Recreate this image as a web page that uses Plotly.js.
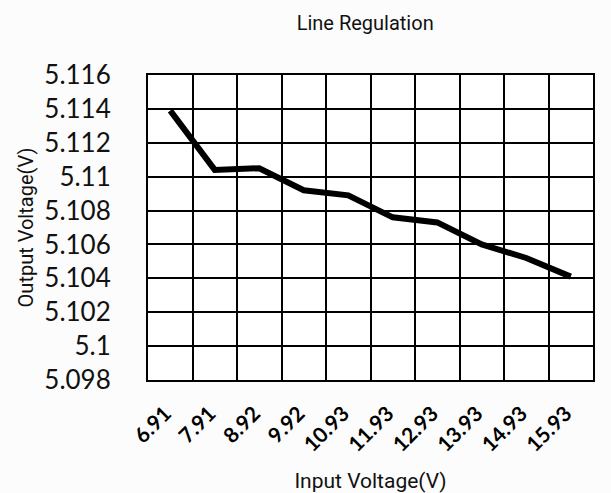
<!DOCTYPE html>
<html>
<head>
<meta charset="utf-8">
<script src="https://cdn.plot.ly/plotly-3.0.1.min.js"></script>
<style>html,body{margin:0;padding:0;background:#fcfcfc;}#chart{width:611px;height:493px;}</style>
</head>
<body>
<div id="chart"></div>
<script>
// Data
var inputVoltage = ["6.91", "7.91", "8.92", "9.92", "10.93", "11.93", "12.93", "13.93", "14.93", "15.93"];
var outputVoltage = [5.1139, 5.1104, 5.1105, 5.1092, 5.1089, 5.1076, 5.1073, 5.1060, 5.1052, 5.1041];
var yTickVals = [5.098, 5.1, 5.102, 5.104, 5.106, 5.108, 5.11, 5.112, 5.114, 5.116];
var yTickText = ["5.098", "5.1", "5.102", "5.104", "5.106", "5.108", "5.11", "5.112", "5.114", "5.116"];

var narrow = "Roboto, 'Liberation Sans Narrow', sans-serif";
var labelFont = "Lato, 'Open Sans', sans-serif";

var trace = {
  x: inputVoltage,
  y: outputVoltage,
  type: 'scatter',
  mode: 'lines',
  line: {color: '#000000', width: 6},
  hoverinfo: 'x+y'
};

var layout = {
  width: 611,
  height: 493,
  paper_bgcolor: '#fcfcfc',
  plot_bgcolor: '#ffffff',
  margin: {l: 148, r: 18, t: 75, b: 113},
  showlegend: false,
  title: {
    text: 'Line Regulation',
    font: {family: narrow, size: 20, color: '#111111'},
    x: 0.488, xref: 'paper', xanchor: 'center',
    y: 0.953, yref: 'container', yanchor: 'middle'
  },
  xaxis: {
    type: 'category',
    range: [-0.5, inputVoltage.length - 0.5],
    tickson: 'boundaries',
    showgrid: true,
    gridcolor: '#000000',
    gridwidth: 2,
    showline: true,
    linecolor: '#000000',
    linewidth: 2,
    mirror: true,
    ticks: '',
    tickangle: -45,
    ticklabelstandoff: 11,
    ticklabelshift: -5,
    tickfont: {family: labelFont, size: 21, color: '#000000', weight: 'bold'},
    title: {text: 'Input Voltage(V)', font: {family: narrow, size: 21, color: '#111111'}, standoff: 18},
    automargin: false,
    zeroline: false
  },
  yaxis: {
    range: [5.098, 5.116],
    tickmode: 'array',
    tickvals: yTickVals,
    ticktext: yTickText,
    showgrid: true,
    gridcolor: '#000000',
    gridwidth: 2,
    showline: true,
    linecolor: '#000000',
    linewidth: 2,
    mirror: true,
    ticks: '',
    ticklabelstandoff: 30,
    tickfont: {family: labelFont, size: 26, color: '#111111'},
    title: {text: 'Output Voltage(V)', font: {family: narrow, size: 20, color: '#111111'}, standoff: 5},
    automargin: false,
    zeroline: false
  }
};

Plotly.newPlot('chart', [trace], layout, {displayModeBar: false, staticPlot: true});
</script>
</body>
</html>
